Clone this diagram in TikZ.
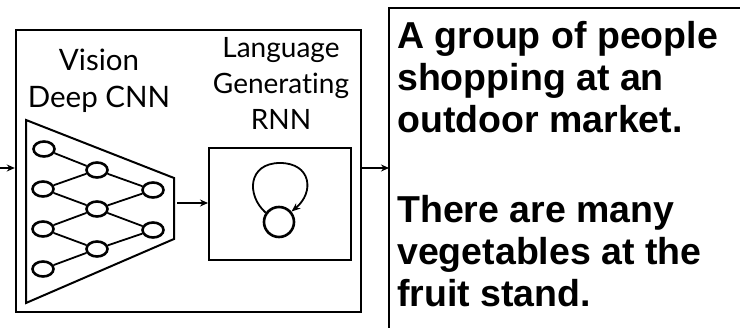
\documentclass[tikz,border=0pt]{standalone}
\usepackage{fontspec}
\setmainfont{Lato}[Ligatures=NoCommon]
\newfontfamily\capfont{Liberation Sans Bold}
\usetikzlibrary{shapes.geometric,arrows.meta}
\begin{document}
\begin{tikzpicture}[x=1pt,y=-1pt,
  neuron/.style={ellipse,draw,line width=2.6pt,minimum width=21pt,minimum height=15pt,inner sep=0pt},
  link/.style={line width=1.8pt},
  arr/.style={-{Stealth[length=8pt,width=7pt]},line width=1.5pt},
  label/.style={align=center,inner sep=0pt,anchor=base},
  caption/.style={font=\capfont\fontsize{37.5}{42}\selectfont,align=left,inner sep=0pt,anchor=base west}
]
\useasboundingbox (0,0) rectangle (740,328);
\fill[white] (0,0) rectangle (740,328);

% outer box
\node[draw,line width=2.4pt,minimum width=345pt,minimum height=282pt,inner sep=0pt] (outer) at (188.5,171) {};
% right caption box (only left and top edges visible)
\coordinate (capbl) at (389,330);
\coordinate (captr) at (742,8);
\draw[line width=2.2pt] (capbl) |- (captr);

% labels (base anchor = baseline of last line)
\node[label,font=\fontsize{29.5}{36.5}\selectfont] (vis) at (99,107.5) {Vision\\Deep CNN};
\node[label,font=\fontsize{28}{36}\selectfont] (lang) at (281,130) {Language\\Generating\\RNN};

% trapezoid
\draw[line width=2pt,line join=miter] (26,120) coordinate (t1) -- (174,178) coordinate (t2) -- (174,239) coordinate (t3) -- (26,303) coordinate (t4) -- cycle;

% neurons
\node[neuron] (a1) at (44,149) {};
\node[neuron] (a2) at (43,189) {};
\node[neuron] (a3) at (43,229) {};
\node[neuron] (a4) at (43,269) {};
\node[neuron] (b1) at (97,170) {};
\node[neuron] (b2) at (97,209) {};
\node[neuron] (b3) at (97,249) {};
\node[neuron] (c1) at (153,190) {};
\node[neuron] (c2) at (153,230) {};

\draw[link] (a1) -- (b1);
\draw[link] (a2) -- (b1);
\draw[link] (a2) -- (b2);
\draw[link] (a3) -- (b2);
\draw[link] (a3) -- (b3);
\draw[link] (a4) -- (b3);
\draw[link] (b1) -- (c1);
\draw[link] (b2) -- (c1);
\draw[link] (b2) -- (c2);
\draw[link] (b3) -- (c2);

% RNN box
\node[draw,line width=2pt,minimum width=142pt,minimum height=112pt,inner sep=0pt] (rnnbox) at (280,204) {};
\node[circle,draw,line width=2.6pt,minimum size=30pt,inner sep=0pt] (rnn) at (279,222) {};
\draw[-{Stealth[length=9pt,width=7pt]},line width=1.8pt] (rnn.145) .. controls (246,195) and (248,163) .. (280,163) .. controls (311,163) and (315,192) .. (rnn.40);

% arrows
\coordinate (inL) at (0,168);
\draw[arr] (inL) -- (inL -| outer.west);
\coordinate (cnnout) at (177,203);
\draw[arr] (cnnout) -- (cnnout -| rnnbox.west);
\coordinate (outR) at (outer.east |- 0,168);
\draw[arr] (outR) -- (outR -| capbl);

% caption text (base anchor = baseline of last line)
\node[caption] (cap) at (397,307) {A group of people\\shopping at an\\outdoor market.\\[48.5pt]There are many\\vegetables at the\\fruit stand.};
\end{tikzpicture}
\end{document}
